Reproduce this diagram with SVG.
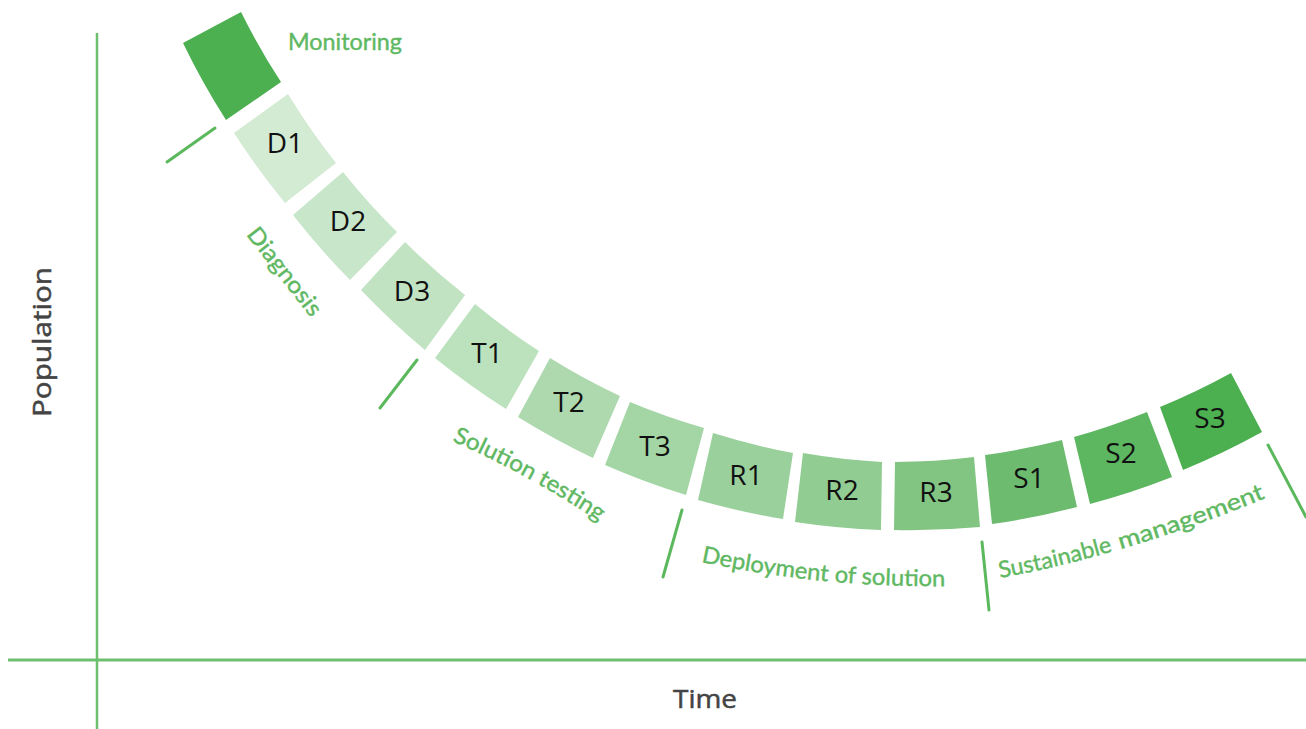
<svg xmlns="http://www.w3.org/2000/svg" width="1306" height="729" viewBox="0 0 1306 729">
<style>
.blk{stroke:none}
.lbl{font-family:"Open Sans","Liberation Sans",sans-serif;font-size:28px;fill:#111;text-anchor:middle}
.phase{font-family:"Lato","Noto Sans",sans-serif;font-size:23px;fill:#5fb862;stroke:#5fb862;stroke-width:0.4}
.tick{stroke:#5cb85c;stroke-width:3;stroke-linecap:round;fill:none}
.axis{stroke:#6cc06e;fill:none}
.axlbl{font-family:"Open Sans","Liberation Sans",sans-serif;font-size:26px;fill:#444;stroke:#444;stroke-width:0.5;text-anchor:middle}
</style>
<rect width="1306" height="729" fill="#fff"/>
<g id="axes">
<line class="axis" x1="97" y1="33" x2="97" y2="729" stroke-width="2.5"/>
<line class="axis" x1="8" y1="660" x2="1306" y2="660" stroke-width="3"/>
<text class="axlbl" x="705" y="708" textLength="64" lengthAdjust="spacingAndGlyphs">Time</text>
<text class="axlbl" transform="translate(51,342) rotate(-90)" textLength="150" lengthAdjust="spacingAndGlyphs">Population</text>
</g>
<g id="connectors">
<line class="tick" x1="167" y1="162" x2="215" y2="128"/>
<line class="tick" x1="380" y1="408" x2="417" y2="360"/>
<line class="tick" x1="663" y1="577" x2="682" y2="510"/>
<line class="tick" x1="982" y1="542" x2="989" y2="610"/>
<line class="tick" x1="1268" y1="445" x2="1306" y2="517"/>
</g>
<g id="monitoring">
<path class="blk" fill="#4caf50" d="M241,12 A680,680 0 0 0 281,82 L226,120 A748,748 0 0 1 183,43 Z"/>
<text class="phase" x="288" y="50" textLength="114" lengthAdjust="spacingAndGlyphs">Monitoring</text>
</g>
<g id="D1"><path class="blk" fill="#d3ead3" d="M288,94 A680,680 0 0 0 336,163 L285,203 A748,748 0 0 1 234,133 Z"/><text class="lbl" x="285" y="153">D1</text></g>
<g id="D2"><path class="blk" fill="#c8e6c9" d="M343,172 A680,680 0 0 0 397,232 L350,280 A748,748 0 0 1 293,215 Z"/><text class="lbl" x="348" y="231">D2</text></g>
<g id="D3"><path class="blk" fill="#c1e3c2" d="M405,242 A680,680 0 0 0 465,295 L425,350 A748,748 0 0 1 361,290 Z"/><text class="lbl" x="412" y="301">D3</text></g>
<g id="T1"><path class="blk" fill="#bce1bd" d="M475,304 A680,680 0 0 0 539,351 L506,409 A748,748 0 0 1 435,358 Z"/><text class="lbl" x="487" y="363">T1</text></g>
<g id="T2"><path class="blk" fill="#aed9af" d="M550,358 A680,680 0 0 0 620,396 L593,458 A748,748 0 0 1 518,417 Z"/><text class="lbl" x="569" y="412">T2</text></g>
<g id="T3"><path class="blk" fill="#a4d5a5" d="M630,402 A680,680 0 0 0 704,428 L686,495 A748,748 0 0 1 605,465 Z"/><text class="lbl" x="655" y="456">T3</text></g>
<g id="R1"><path class="blk" fill="#9ad09b" d="M713,433 A680,680 0 0 0 793,453 L783,519 A748,748 0 0 1 698,500 Z"/><text class="lbl" x="746" y="485">R1</text></g>
<g id="R2"><path class="blk" fill="#91cc92" d="M803,453 A680,680 0 0 0 882,462 L881,530 A748,748 0 0 1 795,522 Z"/><text class="lbl" x="842" y="500">R2</text></g>
<g id="R3"><path class="blk" fill="#82c583" d="M895,462 A680,680 0 0 0 974,457 L980,527 A748,748 0 0 1 894,530 Z"/><text class="lbl" x="936" y="502">R3</text></g>
<g id="S1"><path class="blk" fill="#6dbb6f" d="M985,455 A680,680 0 0 0 1062,440 L1077,507 A748,748 0 0 1 992,524 Z"/><text class="lbl" x="1029" y="488">S1</text></g>
<g id="S2"><path class="blk" fill="#5db660" d="M1074,437 A680,680 0 0 0 1147,412 L1172,477 A748,748 0 0 1 1090,504 Z"/><text class="lbl" x="1121" y="463">S2</text></g>
<g id="S3"><path class="blk" fill="#4caf50" d="M1160,407 A680,680 0 0 0 1231,373 L1262,432 A748,748 0 0 1 1183,470 Z"/><text class="lbl" x="1210" y="428">S3</text></g>
<g id="phase-labels">
<defs>
<path id="pSol" d="M452,441 Q528,474 603,524"/>
<path id="pDep" d="M701,562 Q824,588 948,586"/>
<path id="pSus" d="M1000,578 Q1127,555 1268,497"/>
</defs>
<text class="phase" transform="translate(284,272) rotate(52)" text-anchor="middle" dy="7" textLength="106" lengthAdjust="spacingAndGlyphs">Diagnosis</text>
<text class="phase"><textPath href="#pSol" textLength="168" lengthAdjust="spacingAndGlyphs">Solution testing</textPath></text>
<text class="phase"><textPath href="#pDep" textLength="246" lengthAdjust="spacingAndGlyphs">Deployment of solution</textPath></text>
<text class="phase"><textPath href="#pSus" textLength="116" lengthAdjust="spacingAndGlyphs">Sustainable</textPath></text>
<text class="phase"><textPath href="#pSus" startOffset="124" textLength="154" lengthAdjust="spacingAndGlyphs">management</textPath></text>
</g>
</svg>
